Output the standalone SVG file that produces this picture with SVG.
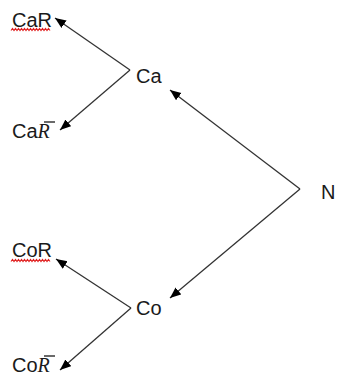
<svg xmlns="http://www.w3.org/2000/svg" width="337" height="378" viewBox="0 0 337 378">
<style>
.lbl{font-family:"Liberation Sans",Arial,sans-serif;font-size:20px;fill:#1a1a1a}
.it{font-family:"Liberation Serif","Times New Roman",serif;font-style:italic}
.edge{stroke:#333;stroke-width:1.3;fill:none;marker-end:url(#ah)}
.wavy{stroke:#e02020;stroke-width:1.1;fill:none}
.bar{stroke:#1a1a1a;stroke-width:1.3}
</style>
<defs>
<marker id="ah" markerUnits="userSpaceOnUse" markerWidth="12" markerHeight="10" refX="11" refY="4.5" orient="auto">
<path d="M0,0 L11,4.5 L0,9 z" fill="#000"/>
</marker>
</defs>
<rect width="337" height="378" fill="#fff"/>
<g id="connectors">
<line class="edge" x1="300" y1="189" x2="170" y2="90"/>
<line class="edge" x1="300" y1="189" x2="170" y2="298"/>
<line class="edge" x1="130" y1="70" x2="55" y2="18"/>
<line class="edge" x1="130" y1="70" x2="60" y2="130"/>
<line class="edge" x1="131" y1="308" x2="56" y2="259"/>
<line class="edge" x1="131" y1="308" x2="60" y2="370"/>
</g>
<g id="N"><text class="lbl" x="321" y="199">N</text></g>
<g id="Ca"><text class="lbl" x="136" y="83">Ca</text></g>
<g id="Co"><text class="lbl" x="136" y="315">Co</text></g>
<g id="CaR">
<text class="lbl" x="12" y="27">CaR</text>
<path class="wavy" d="M11,30.5 l1.5,-2 l1.5,2 l1.5,-2 l1.5,2 l1.5,-2 l1.5,2 l1.5,-2 l1.5,2 l1.5,-2 l1.5,2 l1.5,-2 l1.5,2 l1.5,-2 l1.5,2 l1.5,-2 l1.5,2 l1.5,-2 l1.5,2 l1.5,-2 l1.5,2 l1.5,-2 l1.5,2 l1.5,-2 l1.5,2 l1.5,-2 l1.5,2"/>
</g>
<g id="CaRbar">
<text class="lbl" x="12" y="138">Ca<tspan class="it">R</tspan></text>
<line class="bar" x1="44" y1="122" x2="55" y2="122"/>
</g>
<g id="CoR">
<text class="lbl" x="12" y="257">CoR</text>
<path class="wavy" d="M11,261.5 l1.5,-2 l1.5,2 l1.5,-2 l1.5,2 l1.5,-2 l1.5,2 l1.5,-2 l1.5,2 l1.5,-2 l1.5,2 l1.5,-2 l1.5,2 l1.5,-2 l1.5,2 l1.5,-2 l1.5,2 l1.5,-2 l1.5,2 l1.5,-2 l1.5,2 l1.5,-2 l1.5,2 l1.5,-2 l1.5,2 l1.5,-2 l1.5,2"/>
</g>
<g id="CoRbar">
<text class="lbl" x="12" y="372">Co<tspan class="it">R</tspan></text>
<line class="bar" x1="44" y1="356" x2="55" y2="356"/>
</g>
</svg>
